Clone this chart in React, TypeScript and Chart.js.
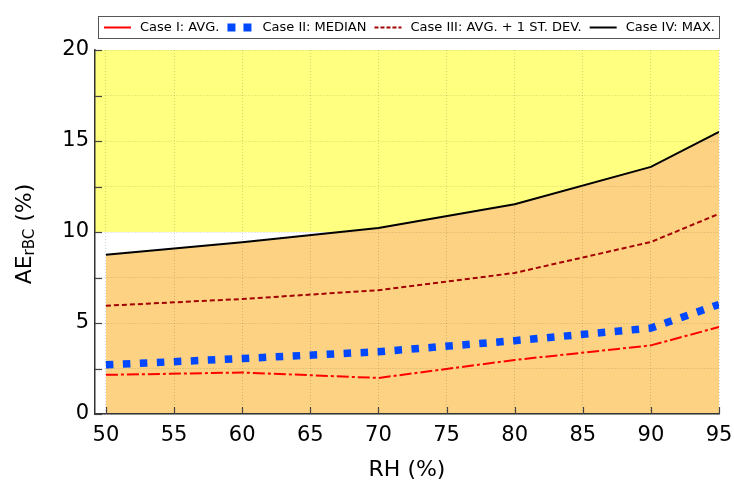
import React, { useEffect, useRef } from 'react';
import { Chart, registerables } from 'chart.js';

Chart.register(...registerables);

// ---- data ----
const RH = [50, 60, 70, 80, 90, 95];
const CASE_I = [2.15, 2.28, 1.98, 2.97, 3.77, 4.78];
const CASE_II = [2.7, 3.05, 3.42, 4.03, 4.72, 6.02];
const CASE_III = [5.95, 6.32, 6.8, 7.75, 9.45, 11.0];
const CASE_IV = [8.75, 9.44, 10.22, 11.53, 13.58, 15.5];

const X_TICKS = [50, 55, 60, 65, 70, 75, 80, 85, 90, 95];
const Y_TICKS = [0, 2.5, 5, 7.5, 10, 12.5, 15, 17.5, 20];
const Y_LABELED = [0, 5, 10, 15, 20];
const X_MIN = 49.2;
const X_MAX = 95;
const Y_MIN = 0;
const Y_MAX = 20;
const BAND_LOW = 10;
const BAND_HIGH = 20;

const LEGEND_LABELS = [
  'Case I: AVG.',
  'Case II: MEDIAN',
  'Case III: AVG. + 1 ST. DEV.',
  'Case IV: MAX.',
];
const X_TITLE = 'RH (%)';
const Y_TITLE_MAIN = 'AE';
const Y_TITLE_SUB = 'rBC';
const Y_TITLE_END = ' (%)';

const FONT = '"DejaVu Sans", "Noto Sans", sans-serif';
const RED = '#ff0000';
const BLUE = '#0048ff';
const DARKRED = '#a50000';
const BLACK = '#000000';
const YELLOW = '#ffff80';
const ORANGE = '#fdd383';

const pts = (ys: number[]) => RH.map((x, i) => ({ x, y: ys[i] }));

const decorPlugin = {
  id: 'decor',
  afterDraw(chart: any) {
    const { ctx, chartArea, scales } = chart;
    const xs = scales.x;
    const ys = scales.y;
    ctx.save();
    // inner tick marks
    ctx.strokeStyle = '#444';
    ctx.lineWidth = 1.2;
    X_TICKS.forEach((v) => {
      const px = Math.round(xs.getPixelForValue(v)) + 0.5;
      ctx.beginPath();
      ctx.moveTo(px, chartArea.bottom);
      ctx.lineTo(px, chartArea.bottom - 7);
      ctx.stroke();
    });
    Y_TICKS.forEach((v) => {
      const py = Math.round(ys.getPixelForValue(v)) + 0.5;
      ctx.beginPath();
      ctx.moveTo(chartArea.left, py);
      ctx.lineTo(chartArea.left + 7, py);
      ctx.stroke();
    });

    // legend box
    ctx.strokeStyle = '#555';
    ctx.lineWidth = 1;
    ctx.strokeRect(98.5, 16.5, 621, 22);
    ctx.font = '13px ' + FONT;
    ctx.fillStyle = '#000';
    ctx.textBaseline = 'middle';
    ctx.textAlign = 'left';
    let cx = 104;
    const cy = 27.5;
    LEGEND_LABELS.forEach((label, i) => {
      ctx.save();
      if (i === 1) {
        ctx.fillStyle = BLUE;
        ctx.fillRect(cx, cy - 4, 8, 8);
        ctx.fillRect(cx + 16, cy - 4, 8, 8);
      } else {
        ctx.beginPath();
        ctx.lineWidth = 2;
        ctx.strokeStyle = i === 0 ? RED : i === 2 ? DARKRED : BLACK;
        if (i === 2) ctx.setLineDash([4, 2]);
        ctx.moveTo(cx, cy);
        ctx.lineTo(cx + 27, cy);
        ctx.stroke();
      }
      ctx.restore();
      const tx = cx + (i === 1 ? 35 : 36);
      ctx.fillText(label, tx, cy);
      cx = tx + ctx.measureText(label).width + 8;
    });

    // x title
    ctx.font = '22px ' + FONT;
    ctx.textAlign = 'center';
    ctx.textBaseline = 'middle';
    ctx.fillText(X_TITLE, (chartArea.left + chartArea.right) / 2, 470);

    // y title with subscript
    const mainFont = '22px ' + FONT;
    const subFont = '15px ' + FONT;
    ctx.font = mainFont;
    const w1 = ctx.measureText(Y_TITLE_MAIN).width;
    const w3 = ctx.measureText(Y_TITLE_END).width;
    ctx.font = subFont;
    const w2 = ctx.measureText(Y_TITLE_SUB).width;
    const total = w1 + w2 + w3;
    ctx.translate(31, (chartArea.top + chartArea.bottom) / 2 + 2);
    ctx.rotate(-Math.PI / 2);
    ctx.textAlign = 'left';
    ctx.textBaseline = 'alphabetic';
    let sx = -total / 2;
    ctx.font = mainFont;
    ctx.fillText(Y_TITLE_MAIN, sx, 0);
    sx += w1;
    ctx.font = subFont;
    ctx.fillText(Y_TITLE_SUB, sx, 3);
    sx += w2;
    ctx.font = mainFont;
    ctx.fillText(Y_TITLE_END, sx, 0);
    ctx.restore();
  },
};

export default function App() {
  const ref = useRef<HTMLCanvasElement | null>(null);
  useEffect(() => {
    if (!ref.current) return;
    const chart = new Chart(ref.current, {
      type: 'line',
      data: {
        datasets: [
          {
            label: LEGEND_LABELS[0],
            data: pts(CASE_I),
            borderColor: RED,
            borderWidth: 2,
            borderDash: [12, 3, 3, 3],
            pointRadius: 0,
            fill: false,
            tension: 0,
          },
          {
            label: LEGEND_LABELS[1],
            data: pts(CASE_II),
            borderColor: BLUE,
            borderWidth: 7.5,
            borderDash: [7.5, 9.5],
            borderCapStyle: 'butt',
            pointRadius: 0,
            fill: false,
            tension: 0,
          },
          {
            label: LEGEND_LABELS[2],
            data: pts(CASE_III),
            borderColor: DARKRED,
            borderWidth: 2,
            borderDash: [5, 3],
            pointRadius: 0,
            fill: false,
            tension: 0,
          },
          {
            label: LEGEND_LABELS[3],
            data: pts(CASE_IV),
            borderColor: BLACK,
            borderWidth: 2,
            pointRadius: 0,
            fill: 'origin',
            backgroundColor: ORANGE,
            tension: 0,
          },
          {
            label: 'band',
            data: [
              { x: X_MIN, y: BAND_HIGH },
              { x: X_MAX, y: BAND_HIGH },
            ],
            borderWidth: 0,
            borderColor: 'rgba(0,0,0,0)',
            pointRadius: 0,
            fill: { value: BAND_LOW },
            backgroundColor: YELLOW,
          },
        ],
      },
      options: {
        animation: false,
        responsive: false,
        devicePixelRatio: 1,
        layout: { padding: { top: 50, right: 15, left: 0, bottom: 0 } },
        plugins: {
          legend: { display: false },
          tooltip: { enabled: false },
        },
        scales: {
          x: {
            type: 'linear',
            min: X_MIN,
            max: X_MAX,
            afterBuildTicks: (s: any) => {
              s.ticks = X_TICKS.map((v) => ({ value: v }));
            },
            afterFit: (s: any) => {
              s.height = 79;
              s.paddingLeft = 0;
              s.paddingRight = 0;
            },
            grid: { color: 'rgba(0,0,0,0.17)', drawTicks: false, z: 1 },
            border: { color: '#333', width: 1.5, dash: [1, 2], z: 1 },
            ticks: {
              font: { family: FONT, size: 21 },
              color: '#000',
              padding: 9,
              maxRotation: 0,
              autoSkip: false,
            },
          },
          y: {
            type: 'linear',
            min: Y_MIN,
            max: Y_MAX,
            afterBuildTicks: (s: any) => {
              s.ticks = Y_TICKS.map((v) => ({ value: v }));
            },
            afterFit: (s: any) => {
              s.width = 95;
              s.paddingTop = 0;
              s.paddingBottom = 0;
            },
            grid: { color: 'rgba(0,0,0,0.17)', drawTicks: false, z: 1 },
            border: { color: '#333', width: 1.5, dash: [1, 2], z: 1 },
            ticks: {
              font: { family: FONT, size: 21 },
              color: '#000',
              padding: 6,
              autoSkip: false,
              callback: (v: any) => (Y_LABELED.includes(Number(v)) ? String(v) : ''),
            },
          },
        },
      },
      plugins: [decorPlugin],
    } as any);
    return () => chart.destroy();
  }, []);
  return (
    <div style={{ position: 'fixed', left: 0, top: 0, width: 734, height: 493, background: '#fff' }}>
      <canvas ref={ref} width={734} height={493} />
    </div>
  );
}
